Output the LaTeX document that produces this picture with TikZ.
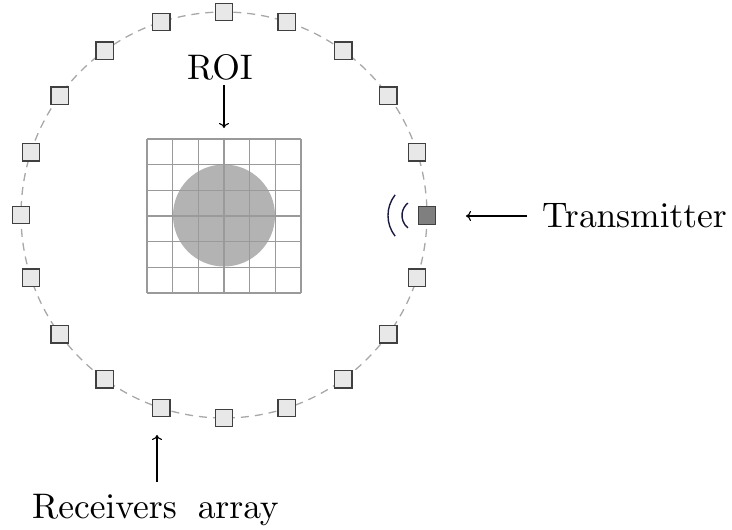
\documentclass[tikz,border=0pt]{standalone}
\usetikzlibrary{arrows.meta}
\definecolor{sqfill}{HTML}{E8E8E8}
\definecolor{sqdraw}{HTML}{404040}
\definecolor{txfill}{HTML}{7F7F7F}
\definecolor{ringc}{HTML}{A8A8A8}
\definecolor{gridc}{HTML}{9A9A9A}
\definecolor{blobc}{HTML}{B3B3B3}
\definecolor{wavec}{HTML}{1A1A40}
\font\lblfont=cmr10 at 35.5pt
\begin{document}
\begin{tikzpicture}[x=1pt,y=-1pt,
  rx/.style={draw=sqdraw,fill=sqfill,line width=1.3pt,minimum size=17.5pt,inner sep=0pt,shape=rectangle},
  tx/.style={rx,fill=txfill},
  lbl/.style={font=\lblfont,inner sep=0pt},
  ptr/.style={line width=1.1pt,-{Computer Modern Rightarrow[length=5pt,width=10pt]}},
  wave/.style={line width=1.4pt,wavec}]
\useasboundingbox (0,0) rectangle (732,530);
% ring
\draw[ringc,line width=1.3pt,dash pattern=on 8pt off 6pt] (224,215) circle[radius=203];
% object and grid
\fill[blobc] (224,215.5) circle[radius=51];
\foreach \i in {0,...,6}{
  \draw[gridc,line width=1.3pt] ({147+25.6667*\i},139) -- ({147+25.6667*\i},293);
  \draw[gridc,line width=1.3pt] (147,{139+25.6667*\i}) -- (301,{139+25.6667*\i});
}
% receivers
\foreach \k in {1,...,19}{
  \node[rx] (r\k) at ({224+203*cos(18*\k)},{215-203*sin(18*\k)}) {};
}
\node[tx] (t) at (427,215.5) {};
% waves
\draw[wave] (421.5,215.5) ++(142:33.5) arc[start angle=142,end angle=218,radius=33.5];
\draw[wave] (418,215.5) ++(129:16) arc[start angle=129,end angle=231,radius=16];
% labels
\node[lbl,anchor=base] (roi) at (220,79.5) {ROI};
\node[lbl,anchor=base west] (txl) at (542,227.5) {Transmitter};
\node[lbl,anchor=base west] (rxl) at (32,518) {Receivers\hspace{9pt} array};
% pointers
\coordinate (roiA) at (224,85);
\coordinate (roiB) at (224,128);
\coordinate (txA) at (527,216);
\coordinate (txB) at (466,216);
\coordinate (rxA) at (157,482);
\coordinate (rxB) at (157,435);
\draw[ptr] (roiA) -- (roiB);
\draw[ptr] (txA) -- (txB);
\draw[ptr] (rxA) -- (rxB);
\end{tikzpicture}
\end{document}
